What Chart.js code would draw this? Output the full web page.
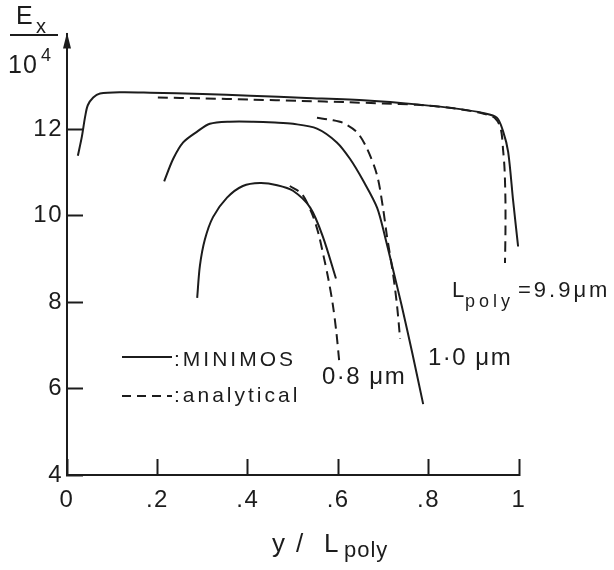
<!DOCTYPE html>
<html>
<head>
<meta charset="utf-8">
<script src="https://cdn.jsdelivr.net/npm/chart.js@4.4.0/dist/chart.umd.min.js"></script>
<style>
  html, body { margin: 0; padding: 0; background: #fff; }
</style>
</head>
<body>
<canvas id="fieldChart" width="614" height="570"></canvas>
<script>
// axis ticks
var xTicks = [0, 0.2, 0.4, 0.6, 0.8, 1];
var xTickLabels = ['0', '.2', '.4', '.6', '.8', '1'];
var yTicks = [4, 6, 8, 10, 12];

// MINIMOS results, points are [y/Lpoly, Ex/1e4]
var minimos99 = [[0.024, 11.39], [0.033, 11.84], [0.040, 12.29], [0.046, 12.56], [0.058, 12.74],
  [0.073, 12.83], [0.12, 12.86], [0.184, 12.85], [0.30, 12.82], [0.405, 12.78], [0.53, 12.73],
  [0.664, 12.67], [0.774, 12.58], [0.87, 12.47], [0.92, 12.38], [0.951, 12.27], [0.965, 11.95],
  [0.976, 11.48], [0.987, 10.35], [0.998, 9.29]];
var minimos10 = [[0.215, 10.80], [0.235, 11.32], [0.257, 11.70], [0.288, 11.95], [0.316, 12.13],
  [0.36, 12.18], [0.412, 12.18], [0.46, 12.16], [0.50, 12.13], [0.553, 12.02], [0.597, 11.70],
  [0.626, 11.32], [0.656, 10.80], [0.686, 10.19], [0.704, 9.50], [0.721, 8.77], [0.740, 7.94],
  [0.764, 6.82], [0.788, 5.64]];
var minimos08 = [[0.288, 8.10], [0.294, 8.84], [0.305, 9.45], [0.323, 9.97], [0.354, 10.42],
  [0.389, 10.69], [0.427, 10.76], [0.465, 10.71], [0.50, 10.58], [0.538, 10.19], [0.566, 9.52],
  [0.595, 8.55]];

// analytical model
var analytic99 = [[0.201, 12.74], [0.30, 12.72], [0.405, 12.69], [0.52, 12.66], [0.62, 12.63],
  [0.70, 12.60], [0.774, 12.57], [0.847, 12.50], [0.92, 12.37], [0.948, 12.25], [0.960, 12.0],
  [0.965, 11.5], [0.968, 11.09], [0.970, 10.35], [0.970, 9.6], [0.969, 8.91]];
var analytic10 = [[0.553, 12.27], [0.585, 12.22], [0.611, 12.15], [0.642, 11.93], [0.664, 11.55],
  [0.686, 10.94], [0.699, 10.19], [0.708, 9.52], [0.721, 8.68], [0.730, 7.94], [0.737, 7.15]];
var analytic08 = [[0.493, 10.69], [0.52, 10.50], [0.542, 10.05], [0.556, 9.60], [0.568, 9.05],
  [0.578, 8.55], [0.588, 7.95], [0.596, 7.30], [0.602, 6.66]];

var ink = '#1c1c1c';
var face = '"Liberation Sans", Arial, Helvetica, sans-serif';

function solid(points) {
  return { data: points, showLine: true, borderColor: ink, borderWidth: 2, pointRadius: 0, tension: 0.3, fill: false };
}
function dashed(points) {
  return { data: points, showLine: true, borderColor: ink, borderWidth: 2, borderDash: [10, 6], pointRadius: 0, tension: 0.3, fill: false };
}

function text(ctx, str, x, y, size, spacing) {
  ctx.font = size + 'px ' + face;
  ctx.letterSpacing = (spacing || 0) + 'px';
  ctx.fillText(str, x, y);
}

var decorations = {
  id: 'decorations',
  beforeDraw: function (chart) {
    // a little extra spacing for the tick numbers
    chart.ctx.letterSpacing = '1.5px';
  },
  afterDraw: function (chart) {
    var ctx = chart.ctx;
    var left = chart.chartArea.left, top = chart.chartArea.top;
    ctx.save();
    ctx.letterSpacing = '0px';
    ctx.fillStyle = ink;
    ctx.strokeStyle = ink;
    ctx.textAlign = 'left';
    ctx.textBaseline = 'alphabetic';

    // arrow head at top of the vertical axis
    ctx.beginPath();
    ctx.moveTo(left, top - 2);
    ctx.lineTo(left - 4, top + 14);
    ctx.lineTo(left + 4, top + 14);
    ctx.closePath();
    ctx.fill();

    // Ex / 10^4
    text(ctx, 'E', 16, 24, 25);
    text(ctx, 'x', 36, 33, 20);
    ctx.lineWidth = 2;
    ctx.beginPath();
    ctx.moveTo(10, 35);
    ctx.lineTo(58, 35);
    ctx.stroke();
    text(ctx, '10', 8, 73, 25, 1);
    text(ctx, '4', 41, 61, 18);

    // y / Lpoly
    text(ctx, 'y', 272, 552, 26);
    text(ctx, '/', 296, 552, 26);
    text(ctx, 'L', 324, 552, 26);
    text(ctx, 'poly', 344, 557, 22, 1);

    // key
    ctx.lineWidth = 2;
    ctx.beginPath();
    ctx.moveTo(122, 357);
    ctx.lineTo(172, 357);
    ctx.stroke();
    ctx.setLineDash([9, 6]);
    ctx.beginPath();
    ctx.moveTo(122, 396);
    ctx.lineTo(172, 396);
    ctx.stroke();
    ctx.setLineDash([]);
    text(ctx, ':MINIMOS', 174, 366, 21, 3);
    text(ctx, ':analytical', 174, 402, 21, 3);

    // curve labels
    text(ctx, 'L', 452, 297, 22);
    text(ctx, 'poly', 465, 307, 18, 4);
    text(ctx, '=9.9\u03bcm', 518, 297, 22, 3);
    text(ctx, '1\u00b70 \u03bcm', 428, 365, 24, 1.5);
    text(ctx, '0\u00b78 \u03bcm', 322, 384, 24, 1.5);
    ctx.restore();
  }
};

new Chart(document.getElementById('fieldChart'), {
  type: 'scatter',
  data: {
    datasets: [
      solid(minimos99), solid(minimos10), solid(minimos08),
      dashed(analytic99), dashed(analytic10), dashed(analytic08)
    ]
  },
  options: {
    responsive: false,
    animation: false,
    devicePixelRatio: 1,
    layout: { padding: { top: 22, right: 95, left: 0, bottom: 0 } },
    plugins: { legend: { display: false }, tooltip: { enabled: false } },
    scales: {
      x: {
        type: 'linear', min: 0, max: 1,
        afterFit: function (s) { s.height = 95; },
        afterBuildTicks: function (s) { s.ticks = xTicks.map(function (v) { return { value: v }; }); },
        ticks: {
          color: ink, padding: 27, maxRotation: 0,
          font: { family: face, size: 24 },
          callback: function (v, i) { return xTickLabels[i]; }
        },
        grid: { drawOnChartArea: false, drawTicks: true, tickLength: -16, tickWidth: 2, tickColor: ink },
        border: { display: true, color: ink, width: 2 }
      },
      y: {
        type: 'linear', min: 4, max: 14.2,
        afterFit: function (s) { s.width = 67; },
        afterBuildTicks: function (s) { s.ticks = yTicks.map(function (v) { return { value: v }; }); },
        ticks: {
          color: ink, padding: 20,
          font: { family: face, size: 24 }
        },
        grid: { drawOnChartArea: false, drawTicks: true, tickLength: -16, tickWidth: 2, tickColor: ink },
        border: { display: true, color: ink, width: 2 }
      }
    }
  },
  plugins: [decorations]
});
</script>
</body>
</html>
